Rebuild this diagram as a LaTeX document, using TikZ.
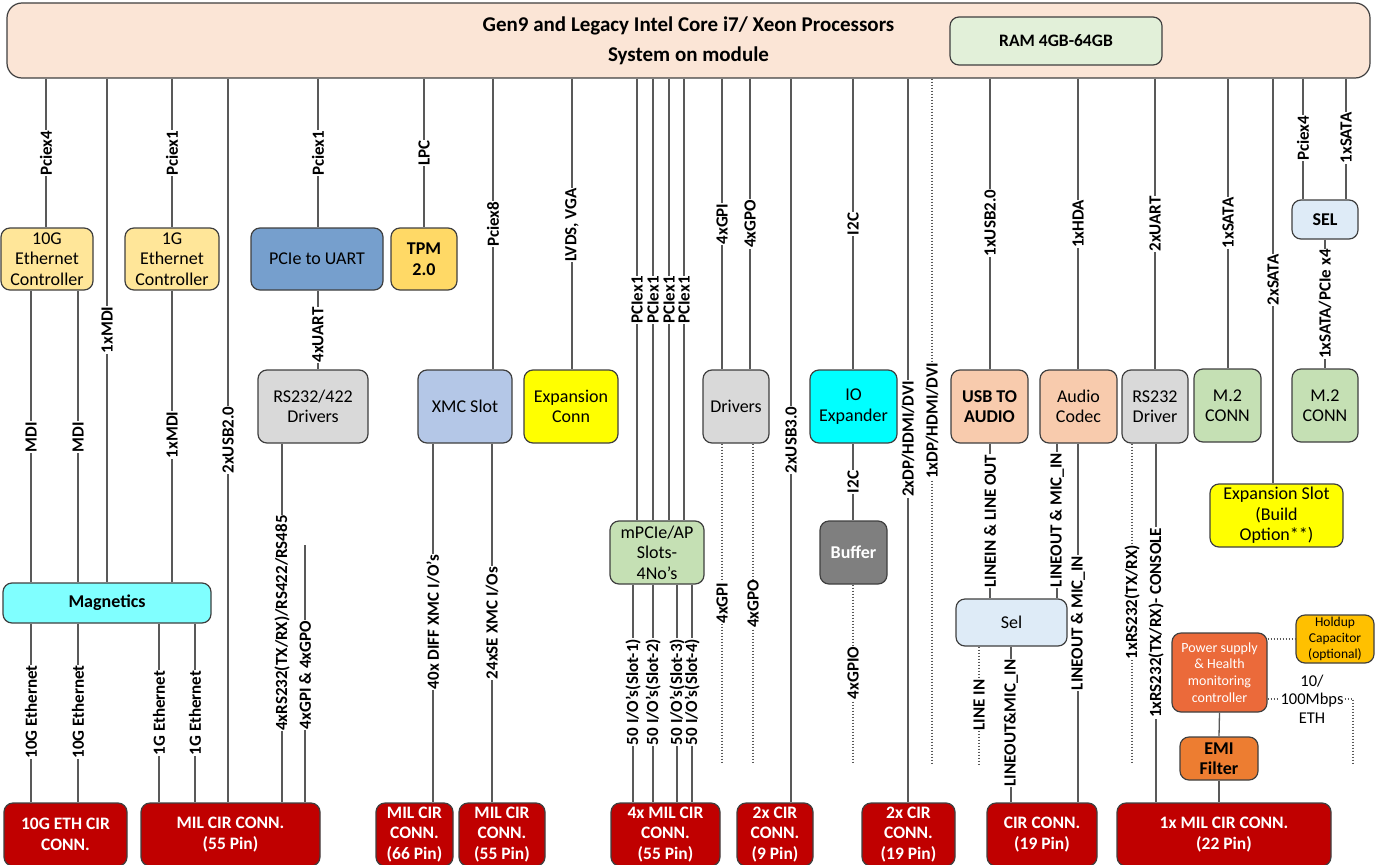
\documentclass[tikz,border=0pt]{standalone}
\usepackage{fontspec}
\setmainfont{Carlito}
\definecolor{bordc}{HTML}{3F3F3F}
\definecolor{wirec}{HTML}{595959}
\definecolor{somc}{HTML}{FBE5D6}
\definecolor{ramc}{HTML}{E2F0D9}
\definecolor{ethc}{HTML}{FFE699}
\definecolor{uartc}{HTML}{769FCD}
\definecolor{tpmc}{HTML}{FFD966}
\definecolor{grayc}{HTML}{D9D9D9}
\definecolor{xmcc}{HTML}{B4C7E7}
\definecolor{yelc}{HTML}{FFFF00}
\definecolor{grnc}{HTML}{C5E0B4}
\definecolor{cyanc}{HTML}{00FFFF}
\definecolor{bufc}{HTML}{7F7F7F}
\definecolor{magc}{HTML}{80FFFF}
\definecolor{audc}{HTML}{F8CBAD}
\definecolor{selc}{HTML}{DEEBF7}
\definecolor{redc}{HTML}{C00000}
\definecolor{psc}{HTML}{EB6A3A}
\definecolor{emic}{HTML}{ED7D31}
\definecolor{holdc}{HTML}{FFC000}
\newcommand\bx[7]{%
 \pgfmathsetmacro\mybw{#4-#2}\pgfmathsetmacro\mybh{#5-#3}%
 \pgfmathsetmacro\mybx{(#2+#4)/2}\pgfmathsetmacro\myby{(#3+#5)/2}%
 \node[bx,#6,minimum width=\mybw pt,minimum height=\mybh pt] (#1) at (\mybx,\myby) {#7};}
\newcommand\vw[5]{\draw[wire] (#1,0 |- #2) -- (#1,#4) node[lbl]{#5} -- (#1,0 |- #3);}
\newcommand\vd[5]{\draw[dotw] (#1,0 |- #2) -- (#1,#4) node[lbl]{#5} -- (#1,0 |- #3);}
\begin{document}
\begin{tikzpicture}[x=1pt,y=-1pt,
  bx/.style={draw=bordc, line width=1.2pt, rounded corners=9pt, align=center, inner sep=0pt,
     font=\fontsize{18}{20.5}\selectfont},
  boldtxt/.style={font=\bfseries\fontsize{18}{20.5}\selectfont},
  redbx/.style={fill=redc, text=white, font=\bfseries\fontsize{17.5}{20.5}\selectfont},
  wire/.style={draw=wirec, line width=1.3pt},
  dotw/.style={draw=wirec, line width=1.2pt, dash pattern=on 1.2pt off 1.8pt},
  lbl/.style={rotate=90, fill=white, inner sep=0.6pt, text=black, font=\bfseries\fontsize{17}{17}\selectfont}]
\useasboundingbox (0,0) rectangle (1380,864);
\fill[white] (0,0) rectangle (1380,864);
% main module
\bx{som}{7}{3}{1370}{78}{fill=somc, rounded corners=15pt, font=\bfseries\fontsize{21}{30}\selectfont}{Gen9 and Legacy Intel Core i7/ Xeon Processors\\System on module}
\bx{ram}{950}{17}{1162}{65}{fill=ramc, font=\bfseries\fontsize{17.5}{20}\selectfont}{RAM 4GB-64GB}
% row 1
\bx{e10}{1}{228}{93}{290}{fill=ethc}{10G\\Ethernet\\Controller}
\bx{e1}{125}{228}{219}{290}{fill=ethc}{1G\\Ethernet\\Controller}
\bx{pcu}{251}{228}{383}{290}{fill=uartc}{PCIe to UART}
\bx{tpm}{391}{228}{457}{290}{fill=tpmc, boldtxt}{TPM\\2.0}
\bx{sela}{1292}{200}{1358}{239}{fill=selc, boldtxt}{SEL}
% row 2
\bx{rsd}{258}{370}{368}{443}{fill=grayc}{RS232/422\\Drivers}
\bx{xmc}{418}{370}{512}{443}{fill=xmcc}{XMC Slot}
\bx{expc}{524}{370}{618}{443}{fill=yelc}{Expansion\\Conn}
\bx{drv}{703}{370}{769}{443}{fill=grayc}{Drivers}
\bx{ioe}{810}{370}{897}{443}{fill=cyanc}{IO\\Expander}
\bx{uta}{951}{370}{1028}{443}{fill=audc, boldtxt}{USB TO\\AUDIO}
\bx{acd}{1040}{370}{1117}{443}{fill=audc}{Audio\\Codec}
\bx{rdr}{1122}{370}{1188}{443}{fill=grayc}{RS232\\Driver}
\bx{m2a}{1194}{369}{1261}{442}{fill=grnc}{M.2\\CONN}
\bx{m2b}{1292}{369}{1358}{442}{fill=grnc}{M.2\\CONN}
% row 3
\bx{exps}{1210}{484}{1343}{547}{fill=yelc}{Expansion Slot\\(Build\\Option**)}
\bx{mpc}{610}{521}{704}{584}{fill=grnc}{mPCIe/AP\\Slots-\\4No’s}
\bx{buf}{820}{521}{887}{584}{fill=bufc, text=white, boldtxt}{Buffer}
\bx{mag}{3}{583}{211}{623}{fill=magc, boldtxt}{Magnetics}
\bx{selb}{956}{599}{1067}{646}{fill=selc}{Sel}
\bx{ps}{1172}{633}{1267}{712}{fill=psc, text=white, font=\fontsize{14}{16.7}\selectfont}{Power supply\\\& Health\\monitoring\\controller}
\bx{emi}{1180}{737}{1258}{780}{fill=emic, boldtxt}{EMI\\Filter}
\bx{hold}{1296}{615}{1374}{663}{fill=holdc, font=\fontsize{13.5}{16}\selectfont}{Holdup\\Capacitor\\(optional)}
\node[font=\fontsize{16.5}{18.5}\selectfont, align=center, inner sep=1pt] (eth) at (1312,699) {10/\\100Mbps\\ETH};
% connectors (bottom row)
\bx{r10}{4}{803}{127}{866}{redbx}{10G ETH CIR\\CONN.}
\bx{rmila}{141}{803}{320}{866}{redbx}{MIL CIR CONN.\\(55 Pin)}
\bx{rmilb}{376}{803}{453}{866}{redbx}{MIL CIR\\CONN.\\(66 Pin)}
\bx{rmilc}{459}{803}{545}{866}{redbx}{MIL CIR\\CONN.\\(55 Pin)}
\bx{r4x}{611}{803}{720}{866}{redbx}{4x MIL CIR\\CONN.\\(55 Pin)}
\bx{r9}{737}{803}{813}{866}{redbx}{2x CIR\\CONN.\\(9 Pin)}
\bx{r19a}{862}{803}{955}{866}{redbx}{2x CIR\\CONN.\\(19 Pin)}
\bx{r19b}{987}{803}{1097}{866}{redbx}{CIR CONN.\\(19 Pin)}
\bx{r22}{1117}{803}{1331}{866}{redbx}{1x MIL CIR CONN.\\(22 Pin)}
\coordinate (dend) at (0,764);
\coordinate (gpst) at (305,545);
% lines from the module
\vw{46}{som.south}{e10.north}{153}{Pciex4}
\vw{107}{som.south}{mag.north}{330}{1xMDI}
\vw{172}{som.south}{e1.north}{153}{Pciex1}
\vw{228}{som.south}{rmila.north}{440}{2xUSB2.0}
\vw{318}{som.south}{pcu.north}{153}{Pciex1}
\vw{424}{som.south}{tpm.north}{153}{LPC}
\vw{493}{som.south}{xmc.north}{224}{Pciex8}
\vw{572}{som.south}{expc.north}{225}{LVDS, VGA}
\vw{637}{som.south}{mpc.north}{300}{PCIex1}
\vw{653}{som.south}{mpc.north}{300}{PCIex1}
\vw{669}{som.south}{mpc.north}{300}{PCIex1}
\vw{684}{som.south}{mpc.north}{300}{PCIex1}
\vw{722}{som.south}{drv.north}{224}{4xGPI}
\vw{750}{som.south}{drv.north}{224}{4xGPO}
\vw{791}{som.south}{r9.north}{440}{2xUSB3.0}
\vw{853}{som.south}{ioe.north}{224}{I2C}
\vw{908}{som.south}{r19a.north}{439}{2xDP/HDMI/DVI}
\vd{932}{som.south}{dend}{421}{1xDP/HDMI/DVI}
\vw{990}{som.south}{uta.north}{223}{1xUSB2.0}
\vw{1078}{som.south}{acd.north}{224}{1xHDA}
\vw{1155}{som.south}{rdr.north}{224}{2xUART}
\vw{1228}{som.south}{m2a.north}{223}{1xSATA}
\vw{1273}{som.south}{exps.north}{280}{2xSATA}
\vw{1303}{som.south}{sela.north}{138}{Pciex4}
\vw{1346}{som.south}{sela.north}{138}{1xSATA}
\vw{1325}{sela.south}{m2b.north}{304}{1xSATA/PCIe x4}
% lower lines
\vw{31}{e10.south}{mag.north}{437}{MDI}
\vw{78}{e10.south}{mag.north}{437}{MDI}
\vw{172}{e1.south}{mag.north}{435}{1xMDI}
\vw{318}{pcu.south}{rsd.north}{335}{4xUART}
\vw{31}{mag.south}{r10.north}{712}{10G Ethernet}
\vw{78}{mag.south}{r10.north}{712}{10G Ethernet}
\vw{159}{mag.south}{rmila.north}{713}{1G Ethernet}
\vw{195}{mag.south}{rmila.north}{713}{1G Ethernet}
\vw{282}{rsd.south}{rmila.north}{623}{4xRS232(TX/RX)/RS422/RS485}
\vw{305}{gpst}{rmila.north}{675}{4xGPI \& 4xGPO}
\vw{433}{xmc.south}{rmilb.north}{622}{40x DIFF XMC I/O’s}
\vw{492}{xmc.south}{rmilc.north}{623}{24xSE XMC I/Os}
\vw{633}{mpc.south}{r4x.north}{692}{50 I/O’s(Slot-1)}
\vw{653}{mpc.south}{r4x.north}{692}{50 I/O’s(Slot-2)}
\vw{677}{mpc.south}{r4x.north}{692}{50 I/O’s(Slot-3)}
\vw{692}{mpc.south}{r4x.north}{692}{50 I/O’s(Slot-4)}
\vd{722}{drv.south}{dend}{603}{4xGPI}
\vd{753}{drv.south}{dend}{604}{4xGPO}
\vw{853}{ioe.south}{buf.north}{482}{I2C}
\vd{853}{buf.south}{dend}{673}{4xGPIO}
\vw{990}{uta.south}{selb.north}{521}{LINEIN \& LINE OUT}
\vw{1057}{acd.south}{selb.north}{520}{LINEOUT \& MIC\_IN}
\vw{1078}{acd.south}{r19b.north}{623}{LINEOUT \& MIC\_IN}
\vd{979}{selb.south}{dend}{705}{LINE IN}
\vw{1011}{selb.south}{r19b.north}{723}{LINEOUT\&MIC\_IN}
\vd{1132}{rdr.south}{dend}{602}{1xRS232(TX/RX)}
\vw{1156}{rdr.south}{r22.north}{623}{1xRS232(TX/RX)- CONSOLE}
\draw[wire] (ps.south) -- (emi.north);
\draw[wire] (emi.south) -- (emi.south |- r22.north);
\draw[dotw] (ps.east |- hold.west) -- (hold.west);
\draw[dotw] (ps.east |- eth.west) -- (eth.west);
\draw[dotw] (eth.east) -- (1353,0 |- eth.east) -- (1353,0 |- dend);
\end{tikzpicture}
\end{document}
